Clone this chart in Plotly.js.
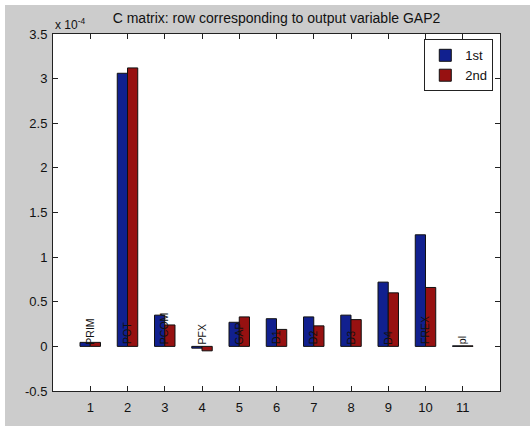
<!DOCTYPE html>
<html>
<head>
<meta charset="utf-8">
<script src="https://cdn.plot.ly/plotly-3.0.1.min.js"></script>
<style>
  html, body { margin: 0; padding: 0; background: #ffffff; }
  #chart { position: absolute; left: 5px; top: 5px; width: 525px; height: 421px; }
</style>
</head>
<body>
<div id="chart"></div>
<script>
// Values in units of 1e-4
const categories = [1, 2, 3, 4, 5, 6, 7, 8, 9, 10, 11];
const stateLabels = ["PRIM", "POT", "PCOM", "PFX", "GAP", "D1", "D2", "D3", "D4", "FREX", "pl"];
const firstVals  = [0.045, 3.06, 0.35, -0.02, 0.27, 0.31, 0.33, 0.35, 0.72, 1.25, 0.006];
const secondVals = [0.045, 3.12, 0.24, -0.05, 0.33, 0.19, 0.23, 0.30, 0.60, 0.66, 0.006];
const seriesNames = ["1st", "2nd"];
const yTicks = [-0.5, 0, 0.5, 1, 1.5, 2, 2.5, 3, 3.5];
const yTickText = ["-0.5", "0", "0.5", "1", "1.5", "2", "2.5", "3", "3.5"];

const FONT = "Liberation Sans, Arial, Helvetica, sans-serif";

const traces = [
  {
    type: "bar", x: categories, y: firstVals, name: seriesNames[0],
    marker: { color: "#11208f", line: { color: "#111111", width: 1 } }
  },
  {
    type: "bar", x: categories, y: secondVals, name: seriesNames[1],
    marker: { color: "#971111", line: { color: "#111111", width: 1 } }
  }
];

const labelAnnotations = categories.map((c, i) => ({
  x: c, y: 0, xref: "x", yref: "y",
  text: stateLabels[i], showarrow: false, textangle: -90,
  xanchor: "center", yanchor: "bottom",
  font: { family: FONT, size: 10.5, color: "#111111" }
}));

const layout = {
  width: 525, height: 421,
  paper_bgcolor: "#cccccc",
  plot_bgcolor: "#ffffff",
  margin: { l: 48, r: 30, t: 29, b: 35 },
  barmode: "group",
  bargap: 0.45,
  bargroupgap: 0,
  font: { family: FONT, size: 12, color: "#111111" },
  title: {
    text: "C matrix: row corresponding to output variable GAP2",
    font: { family: FONT, size: 14, color: "#111111" },
    x: 0.5, xref: "paper", y: 0.969, yref: "container", yanchor: "middle"
  },
  xaxis: {
    range: [0, 12], tickvals: categories, ticktext: categories.map(String),
    ticks: "inside", ticklen: 5, tickcolor: "#222222",
    showline: true, linecolor: "#222222", linewidth: 1, mirror: "ticks",
    showgrid: false, zeroline: false, ticklabelstandoff: 4,
    tickfont: { family: FONT, size: 13, color: "#111111" }
  },
  yaxis: {
    range: [-0.5, 3.5], tickvals: yTicks, ticktext: yTickText,
    ticks: "inside", ticklen: 5, tickcolor: "#222222",
    showline: true, linecolor: "#222222", linewidth: 1, mirror: "ticks",
    showgrid: false, zeroline: false, ticklabelstandoff: 2,
    tickfont: { family: FONT, size: 13, color: "#111111" }
  },
  legend: {
    x: 0.985, y: 0.985, xanchor: "right", yanchor: "top",
    bgcolor: "#ffffff", bordercolor: "#222222", borderwidth: 1,
    font: { family: FONT, size: 13, color: "#111111" },
    tracegroupgap: 0
  },
  annotations: [
    {
      xref: "paper", yref: "paper", x: 0.0, y: 1.0, xanchor: "left", yanchor: "bottom",
      text: "x 10<sup>-4</sup>", showarrow: false,
      font: { family: FONT, size: 12, color: "#111111" }
    }
  ].concat(labelAnnotations),
  showlegend: true
};

Plotly.newPlot("chart", traces, layout, { displayModeBar: false, staticPlot: true });
</script>
</body>
</html>
